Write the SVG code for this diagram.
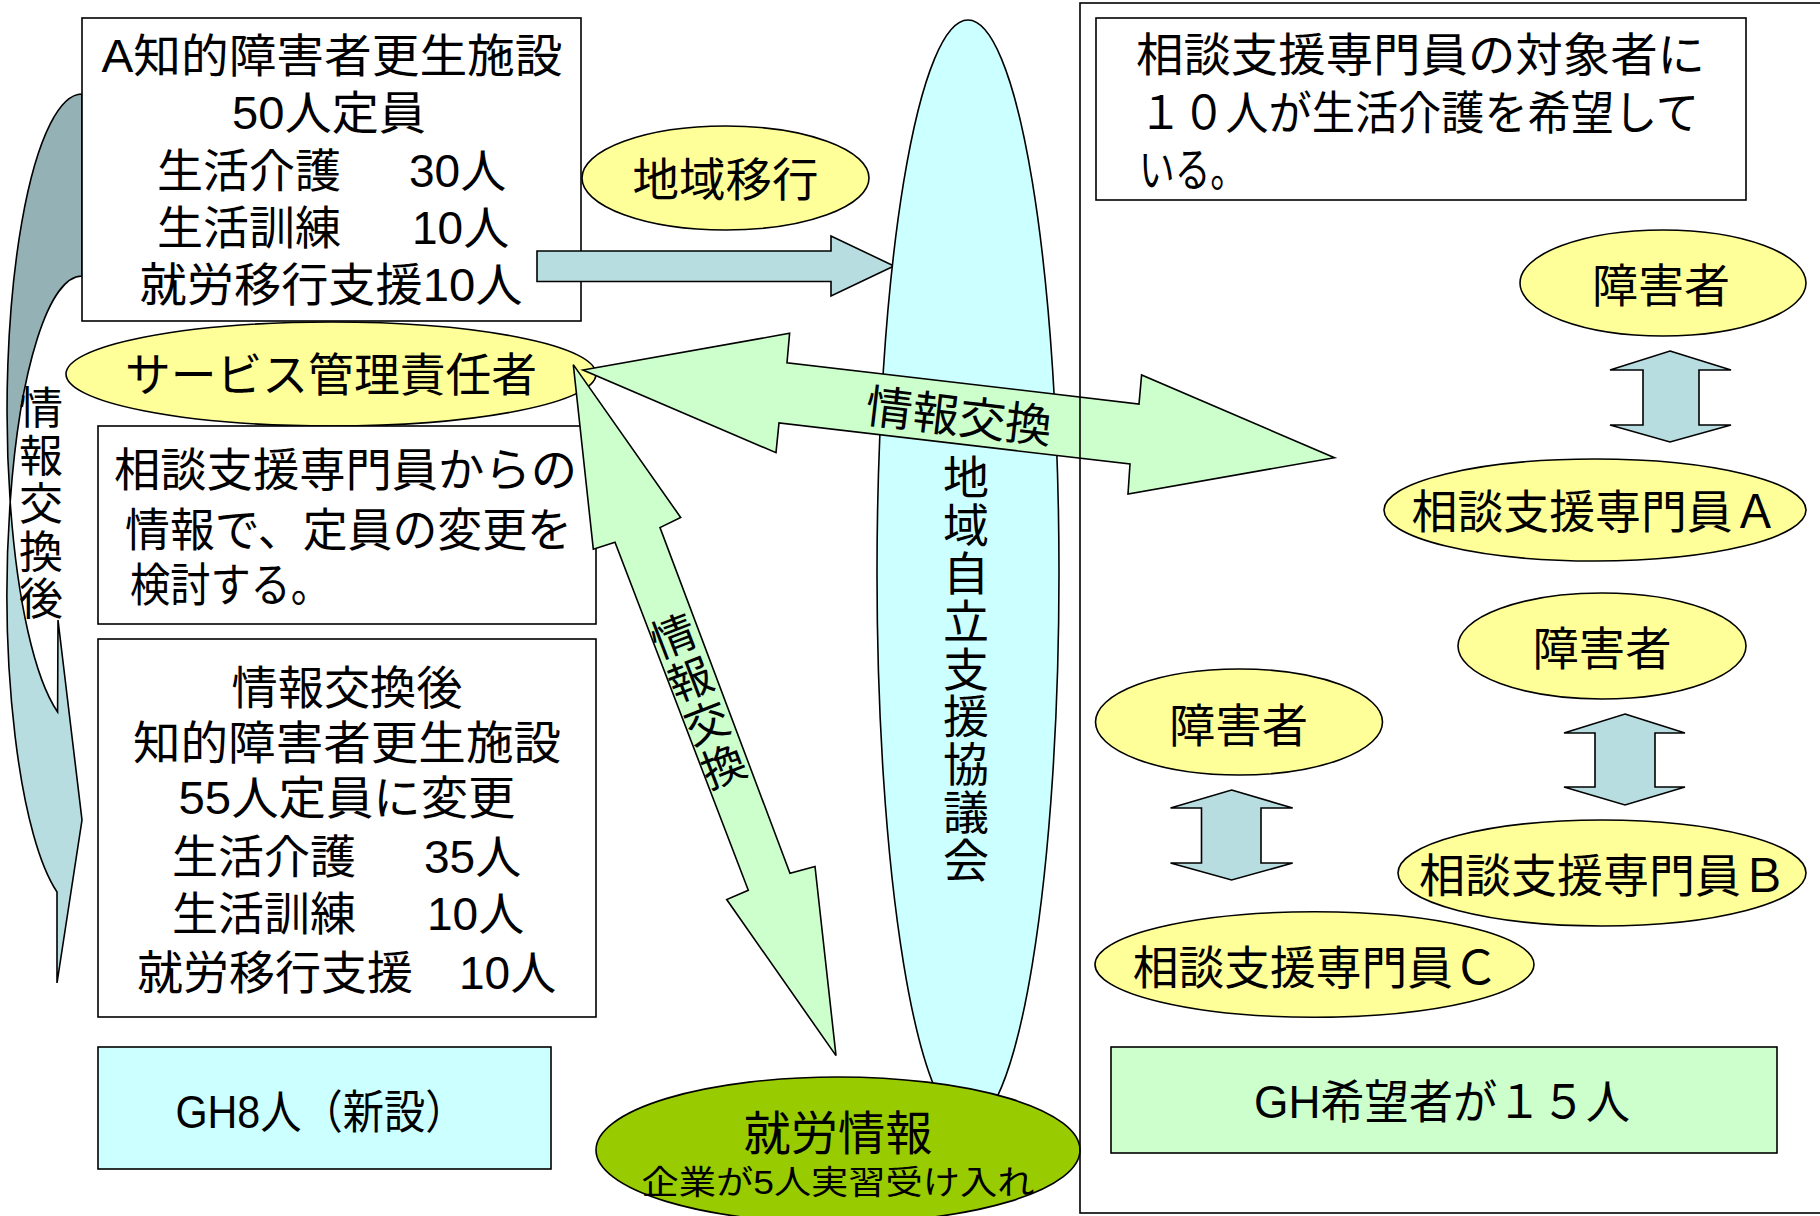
<svg xmlns="http://www.w3.org/2000/svg" width="1820" height="1216" viewBox="0 0 1820 1216">
<style>
text{font-family:"Liberation Sans","Noto Sans CJK JP",sans-serif;fill:#000;}
.t46{font-size:46px;}
.t44{font-size:44px;}
.mid{text-anchor:middle;}
.vert{font-family:"Noto Sans CJK JP",sans-serif;writing-mode:vertical-rl;text-anchor:middle;}
.ln{stroke:#000;stroke-width:1.6;}
.box{fill:#fff;stroke:#000;stroke-width:1.6;}
.yel{fill:#ffff99;stroke:#000;stroke-width:1.6;}
.cyan{fill:#ccffff;stroke:#000;stroke-width:1.6;}
.grn{fill:#ccffcc;stroke:#000;stroke-width:1.6;}
.lb{fill:#b8dde1;stroke:#000;stroke-width:1.6;stroke-linejoin:miter;}
</style>
<rect width="1820" height="1216" fill="#fff"/>

<!-- left curved arrow 情報交換後 -->
<g id="curved-arrow">
<path d="M82,94 A75,317 0 0 0 10.2,502 A75,317 0 0 1 82,276 Z" fill="#94b2b6" stroke="#000" stroke-width="1.6"/>
<path d="M10.2,502 A75,317 0 0 0 57,892 L57,983 L82,820 L58,620 L57.6,712 A75,317 0 0 1 10.2,502 Z" class="lb"/>
<text class="t44 vert" x="41" y="505" style="letter-spacing:3.7px">情報交換後</text>
</g>

<!-- box A -->
<g id="box-a">
<rect x="82" y="18" width="499" height="303" class="box"/>
<text class="t46 mid" x="332" y="72" textLength="461" lengthAdjust="spacingAndGlyphs">A知的障害者更生施設</text>
<text class="t46 mid" x="329" y="129" textLength="194" lengthAdjust="spacingAndGlyphs">50人定員</text>
<text class="t46"><tspan x="157" y="187">生活介護</tspan><tspan x="409" y="187">30人</tspan></text>
<text class="t46"><tspan x="157" y="244">生活訓練</tspan><tspan x="412" y="244">10人</tspan></text>
<text class="t46 mid" x="331" y="301" textLength="383" lengthAdjust="spacingAndGlyphs">就労移行支援10人</text>
</g>

<g id="connectors-1">
<polygon points="537,251 831,251 831,236 894,266 831,296 831,281.5 537,281.5" class="lb"/>
</g>

<g id="chiiki-ikou">
<ellipse cx="725.5" cy="178" rx="143.5" ry="52" class="yel"/>
<text class="t46 mid" x="725.5" y="196" textLength="186" lengthAdjust="spacingAndGlyphs">地域移行</text>
</g>

<g id="service-kanri">
<ellipse cx="331" cy="374" rx="265" ry="52" class="yel"/>
<text class="t46 mid" x="331" y="391" textLength="412" lengthAdjust="spacingAndGlyphs">サービス管理責任者</text>
</g>

<g id="box-soudan">
<rect x="98" y="426" width="498" height="198" class="box"/>
<text class="t46" x="114" y="486" textLength="463" lengthAdjust="spacingAndGlyphs">相談支援専門員からの</text>
<text class="t46" x="125" y="546" textLength="447" lengthAdjust="spacingAndGlyphs">情報で、定員の変更を</text>
<text class="t46" x="130" y="601" textLength="201" lengthAdjust="spacingAndGlyphs">検討する。</text>
</g>

<g id="box-after">
<rect x="98" y="639" width="498" height="378" class="box"/>
<text class="t46 mid" x="347" y="704" textLength="231" lengthAdjust="spacingAndGlyphs">情報交換後</text>
<text class="t46 mid" x="347" y="759" textLength="428" lengthAdjust="spacingAndGlyphs">知的障害者更生施設</text>
<text class="t46 mid" x="347" y="814" textLength="337" lengthAdjust="spacingAndGlyphs">55人定員に変更</text>
<text class="t46"><tspan x="172" y="873">生活介護</tspan><tspan x="424" y="873">35人</tspan></text>
<text class="t46"><tspan x="172" y="930">生活訓練</tspan><tspan x="427" y="930">10人</tspan></text>
<text class="t46"><tspan x="137" y="989">就労移行支援</tspan><tspan x="459" y="989">10人</tspan></text>
</g>

<g id="gh8">
<rect x="98" y="1047" width="453" height="122" class="cyan"/>
<text class="t46 mid" x="321" y="1128" textLength="291" lengthAdjust="spacingAndGlyphs">GH8人（新設）</text>
</g>

<g id="kyougikai">
<ellipse cx="968" cy="573" rx="91" ry="553" class="cyan"/>
<text class="t46 vert" x="966" y="669" style="letter-spacing:1.9px">地域自立支援協議会</text>
</g>

<g id="connectors-2">
<polygon points="583,370 789.6,333.3 787,362.7 1139,404 1141.6,375 1334.5,457.7 1128,494 1130,464 779,423 776,452.7" class="grn"/>
<text class="t46 mid" transform="translate(959,417) rotate(6.7)" x="0" y="16" textLength="187" lengthAdjust="spacingAndGlyphs">情報交換</text>
<polygon points="573.3,364.6 680.7,517.5 660,527.6 790,873.3 815,866.4 836,1055.6 726.7,899.5 748.3,890.3 615,542.3 593.3,549.2" class="grn"/>
<g transform="translate(673.3,635.5) rotate(-21)">
<text class="t44 vert" x="0" y="71" style="letter-spacing:2.4px">情報交換</text>
</g>
</g>

<g id="shurou-jouhou">
<ellipse cx="838" cy="1150" rx="242" ry="73" fill="#99cc00" stroke="#000" stroke-width="1.6"/>
<text class="mid" style="font-size:47px" x="838" y="1150" textLength="189" lengthAdjust="spacingAndGlyphs">就労情報</text>
<text class="mid" style="font-size:33px" x="838" y="1194" textLength="393" lengthAdjust="spacingAndGlyphs">企業が5人実習受け入れ</text>
</g>

<g id="right-frame">
<rect x="1080" y="3" width="760" height="1210" fill="none" class="ln"/>
</g>

<g id="note-box">
<rect x="1096" y="18" width="650" height="182" class="box"/>
<text class="t46" x="1136" y="71" textLength="569" lengthAdjust="spacingAndGlyphs">相談支援専門員の対象者に</text>
<text class="t46" x="1139" y="128.5" textLength="560" lengthAdjust="spacingAndGlyphs">１０人が生活介護を希望して</text>
<text class="t46" x="1139" y="186" textLength="107" lengthAdjust="spacingAndGlyphs">いる。</text>
</g>

<g id="shougaisha-a">
<ellipse cx="1663" cy="283" rx="143" ry="53" class="yel"/>
<text class="t46 mid" x="1661" y="302" textLength="138" lengthAdjust="spacingAndGlyphs">障害者</text>
</g>
<g id="soudan-a">
<ellipse cx="1595" cy="510" rx="211" ry="51" class="yel"/>
<text class="t46 mid" x="1595" y="528" textLength="367" lengthAdjust="spacingAndGlyphs">相談支援専門員Ａ</text>
</g>
<g id="shougaisha-b">
<ellipse cx="1602" cy="646" rx="144" ry="53" class="yel"/>
<text class="t46 mid" x="1602" y="665" textLength="139" lengthAdjust="spacingAndGlyphs">障害者</text>
</g>
<g id="soudan-b">
<ellipse cx="1602" cy="873" rx="204" ry="53" class="yel"/>
<text class="t46 mid" x="1603" y="892" textLength="368" lengthAdjust="spacingAndGlyphs">相談支援専門員Ｂ</text>
</g>
<g id="shougaisha-c">
<ellipse cx="1239" cy="722" rx="143.5" ry="53" class="yel"/>
<text class="t46 mid" x="1238.5" y="742" textLength="139" lengthAdjust="spacingAndGlyphs">障害者</text>
</g>
<g id="soudan-c">
<ellipse cx="1314.5" cy="964.5" rx="219.5" ry="52.7" class="yel"/>
<text class="t46 mid" x="1315.7" y="984" textLength="366" lengthAdjust="spacingAndGlyphs">相談支援専門員Ｃ</text>
</g>

<g id="connectors-3">
<polygon points="1670,351 1731,370 1699,370 1699,425 1731,425 1670,442 1610,425 1643,425 1643,370 1610,370" class="lb"/>
<polygon points="1625,714 1685,733 1655,733 1655,787 1685,787 1625,805 1564,787 1595,787 1595,733 1564,733" class="lb"/>
<polygon points="1231.6,790 1292.7,808 1261,808 1261,863 1292.7,863 1231.6,880 1170.5,863 1201.5,863 1201.5,808 1170.5,808" class="lb"/>
</g>

<g id="gh15">
<rect x="1111" y="1047" width="666" height="106" class="grn"/>
<text class="t46 mid" x="1442" y="1118" textLength="376" lengthAdjust="spacingAndGlyphs">GH希望者が１５人</text>
</g>
</svg>
